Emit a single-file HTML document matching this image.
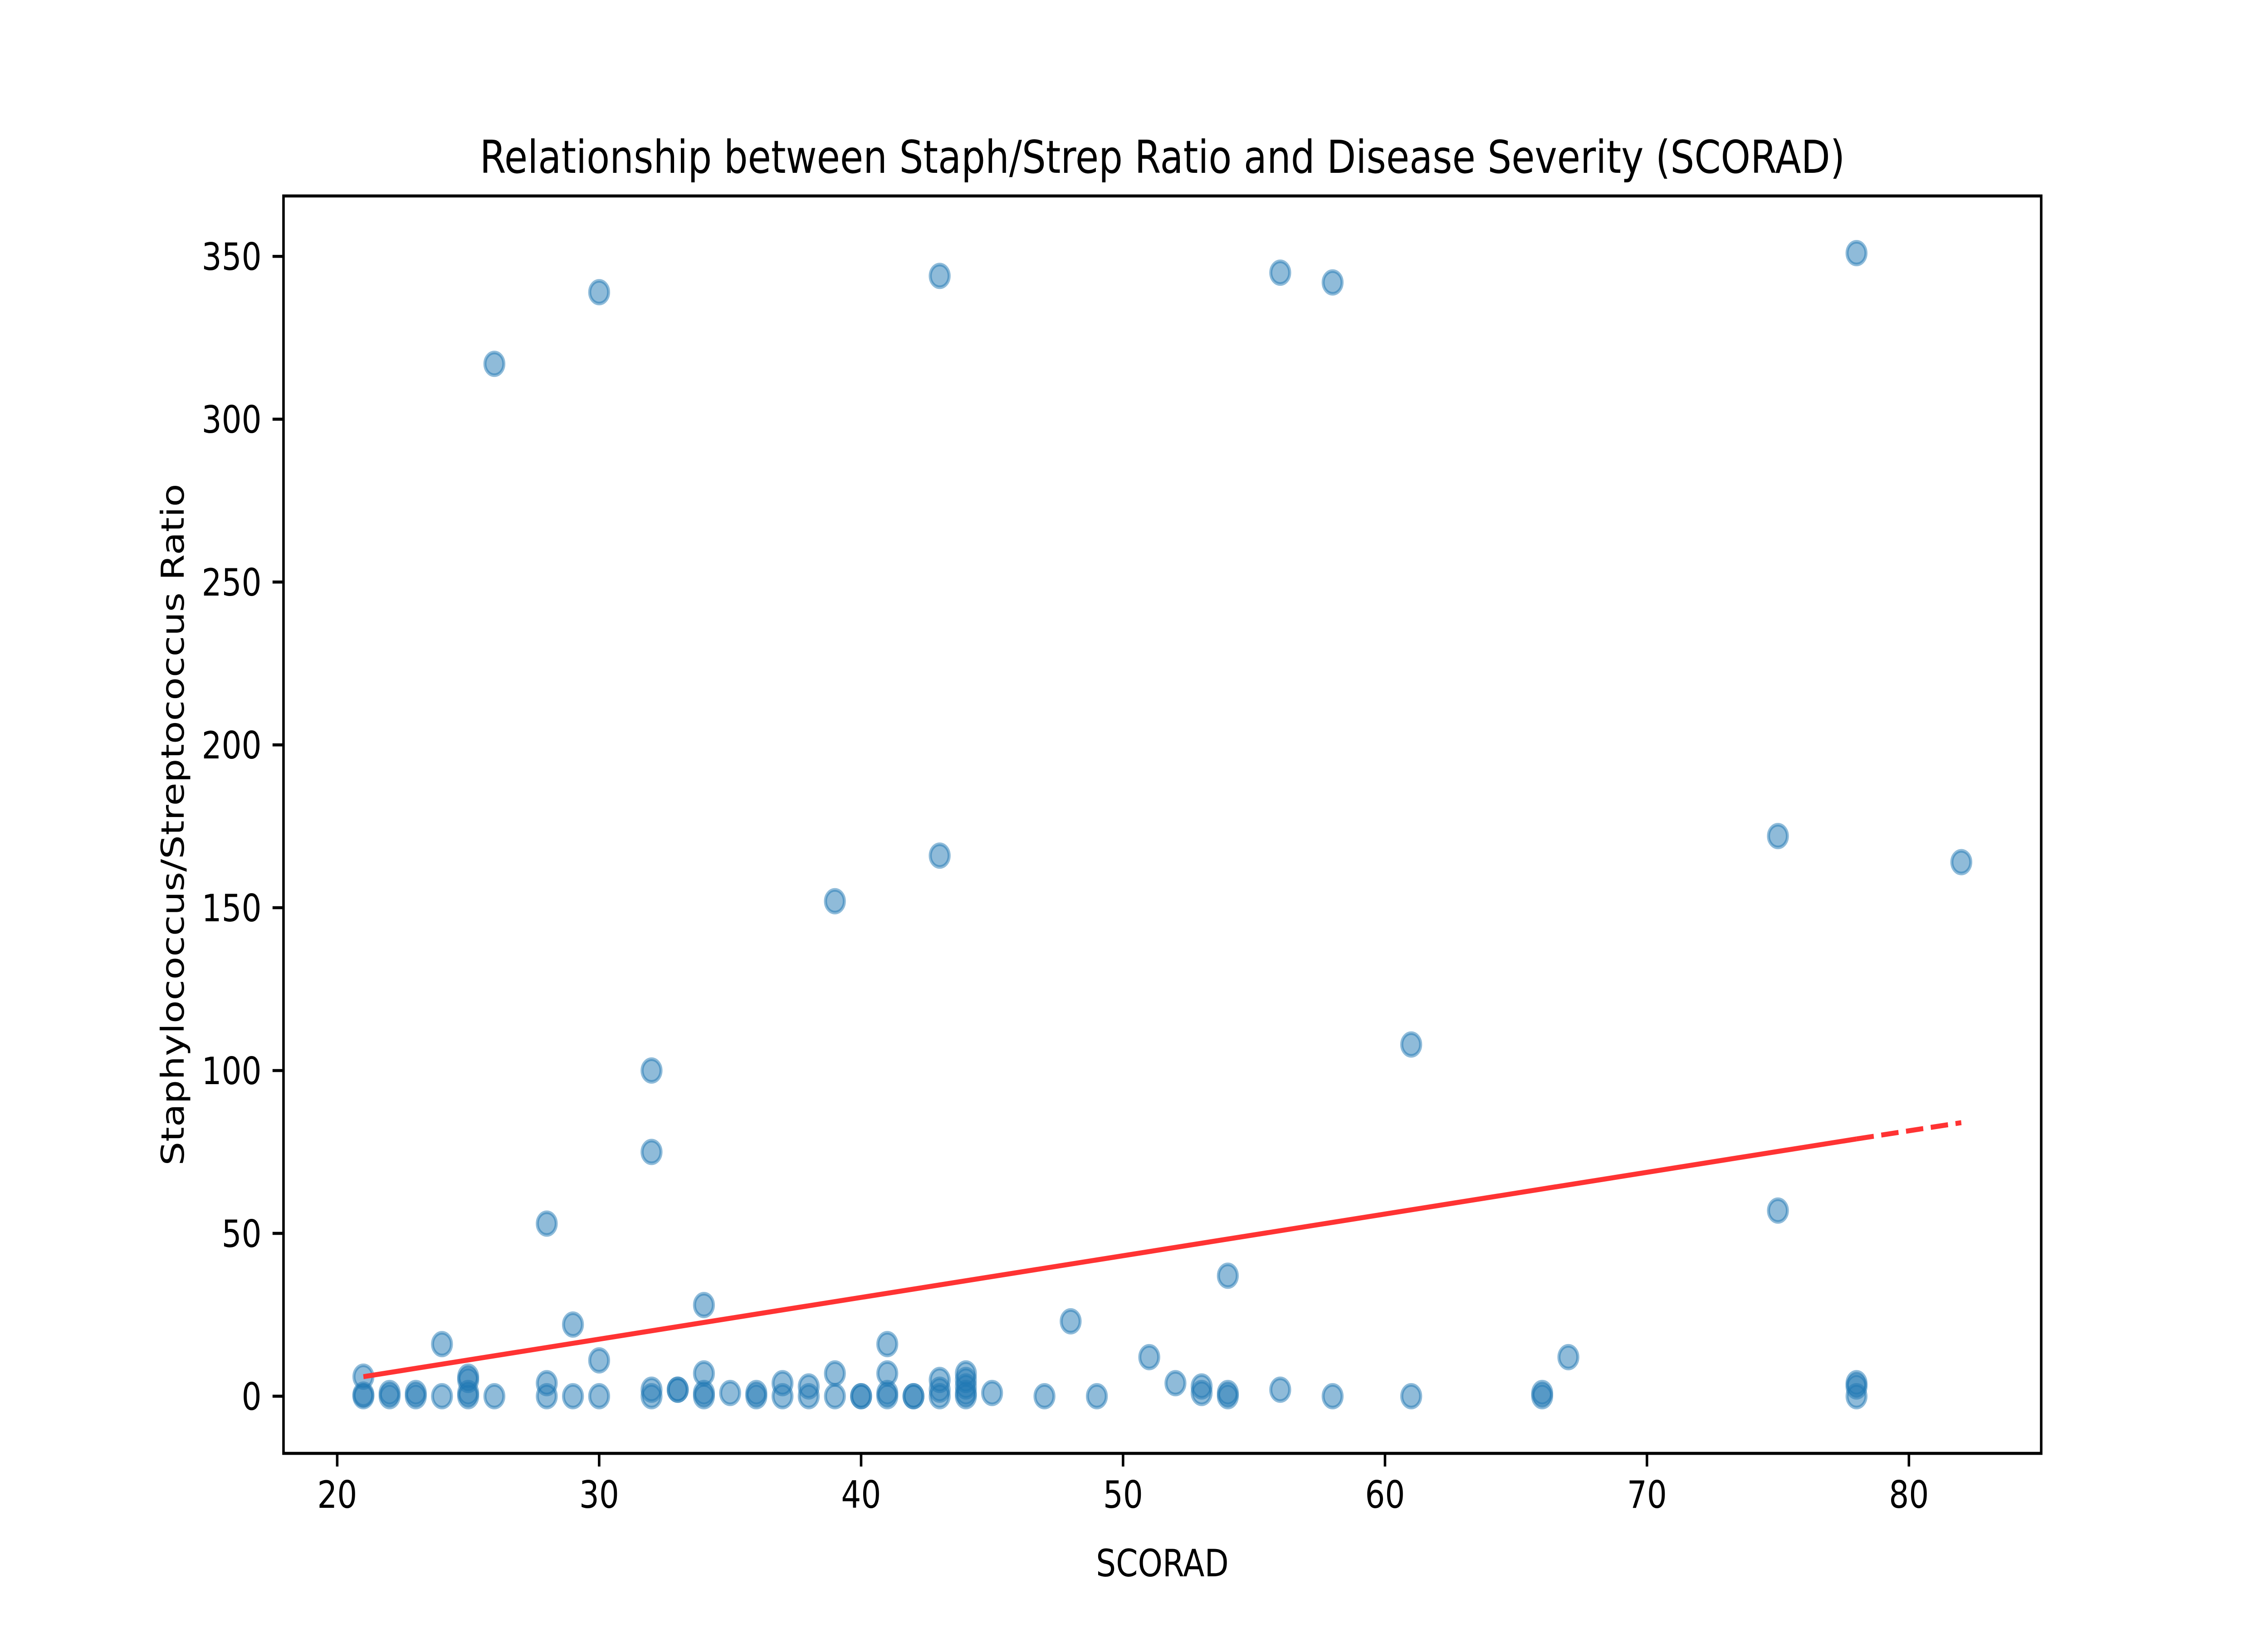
<!DOCTYPE html>
<html><head><meta charset="utf-8"><style>
html,body{margin:0;padding:0;background:#fff;overflow:hidden;width:100%;height:100%;}
svg{display:block;position:absolute;left:0;top:0;width:100vw;height:100vh;}
svg text{font-family:"DejaVu Sans","Liberation Sans",sans-serif;fill:#000;}
</style></head><body>
<svg id="chart" viewBox="0 0 6000 3600" preserveAspectRatio="none" xmlns="http://www.w3.org/2000/svg">
<rect width="6000" height="3600" fill="#fff"/>
<text x="3075" y="381" font-size="100" text-anchor="middle">Relationship between Staph/Strep Ratio and Disease Severity (SCORAD)</text>
<g id="points"></g>
<g id="trend"></g>
<g id="xticks"></g>
<g id="yticks"></g>
<rect x="750" y="432" width="4650" height="2772" fill="none" stroke="#000" stroke-width="6.7"/>
<text x="3075" y="3475" font-size="83" text-anchor="middle">SCORAD</text>
<text transform="translate(486,1818) rotate(-90)" font-size="83" text-anchor="middle">Staphylococcus/Streptococcus Ratio</text>
</svg>
<script>
const scoradValues=[21,21,21,22,22,23,23,24,24,25,25,25,25,26,26,28,28,28,29,29,30,30,30,32,32,32,32,33,33,34,34,34,34,35,36,36,37,37,38,38,39,39,39,40,40,41,41,41,41,42,42,43,43,43,43,43,44,44,44,44,44,45,47,48,49,51,52,53,53,54,54,54,56,56,58,58,61,61,66,66,67,75,75,78,78,78,78,82];
const ratioValues=[6,0.5,0,1,0,1,0,16,0,6,5,1,0,317,0,53,4,0,22,0,339,11,0,100,75,2,0,2,2,28,7,1,0,1,1,0,4,0,3,0,152,7,0,0,0,16,7,1,0,0,0,344,166,5,2,0,7,5,3,1,0,1,0,23,0,12,4,3,1,37,1,0,345,2,342,0,108,0,1,0,12,172,57,351,4,3,0,164];
const xTickValues=[20,30,40,50,60,70,80];
const yTickValues=[0,50,100,150,200,250,300,350];
const trendX=[21,78,82];
const trendY=[6,79,84];
const NS="http://www.w3.org/2000/svg";
const X0=750,X1=5400,Y0=432,Y1=3204;
const xmin=17.95,xmax=85.05,ymin=-17.55,ymax=368.55;
function sx(v){return X0+(v-xmin)/(xmax-xmin)*(X1-X0);}
function sy(v){return Y1-(v-ymin)/(ymax-ymin)*(Y1-Y0);}
function mk(tag,attrs){const e=document.createElementNS(NS,tag);for(const k in attrs)e.setAttribute(k,attrs[k]);return e;}
const pts=document.getElementById('points');
for(let i=0;i<scoradValues.length;i++){
  const c=mk('circle',{cx:sx(scoradValues[i]),cy:sy(ratioValues[i]),r:25,fill:'#1f77b4','fill-opacity':0.5,stroke:'#1f77b4','stroke-opacity':0.5,'stroke-width':8});
  
  
  pts.appendChild(c);
}
const tr=document.getElementById('trend');
const l1=mk('line',{x1:sx(trendX[0]),y1:sy(trendY[0]),x2:sx(trendX[1]),y2:sy(trendY[1]),stroke:'#ff3333','stroke-width':11});


tr.appendChild(l1);
const l2=mk('line',{x1:sx(trendX[1]),y1:sy(trendY[1]),x2:sx(trendX[2]),y2:sy(trendY[2]),stroke:'#ff3333','stroke-width':11,'stroke-dasharray':'46 20'});


tr.appendChild(l2);
const xg=document.getElementById('xticks');
xTickValues.forEach(v=>{
  const t=mk('line',{x1:sx(v),y1:Y1,x2:sx(v),y2:Y1+29,stroke:'#000','stroke-width':6.7});
  
  
  xg.appendChild(t);
  const tx=mk('text',{x:sx(v),y:Y1+29+29+62,'font-size':83,'text-anchor':'middle'});
  tx.textContent=v;
  
  
  xg.appendChild(tx);
});
const yg=document.getElementById('yticks');
yTickValues.forEach(v=>{
  const t=mk('line',{x1:X0-29,y1:sy(v),x2:X0,y2:sy(v),stroke:'#000','stroke-width':6.7});
  
  
  yg.appendChild(t);
  const tx=mk('text',{x:X0-58,y:sy(v)+30,'font-size':83,'text-anchor':'end'});
  tx.textContent=v;
  
  
  yg.appendChild(tx);
});
</script>
</body></html>
